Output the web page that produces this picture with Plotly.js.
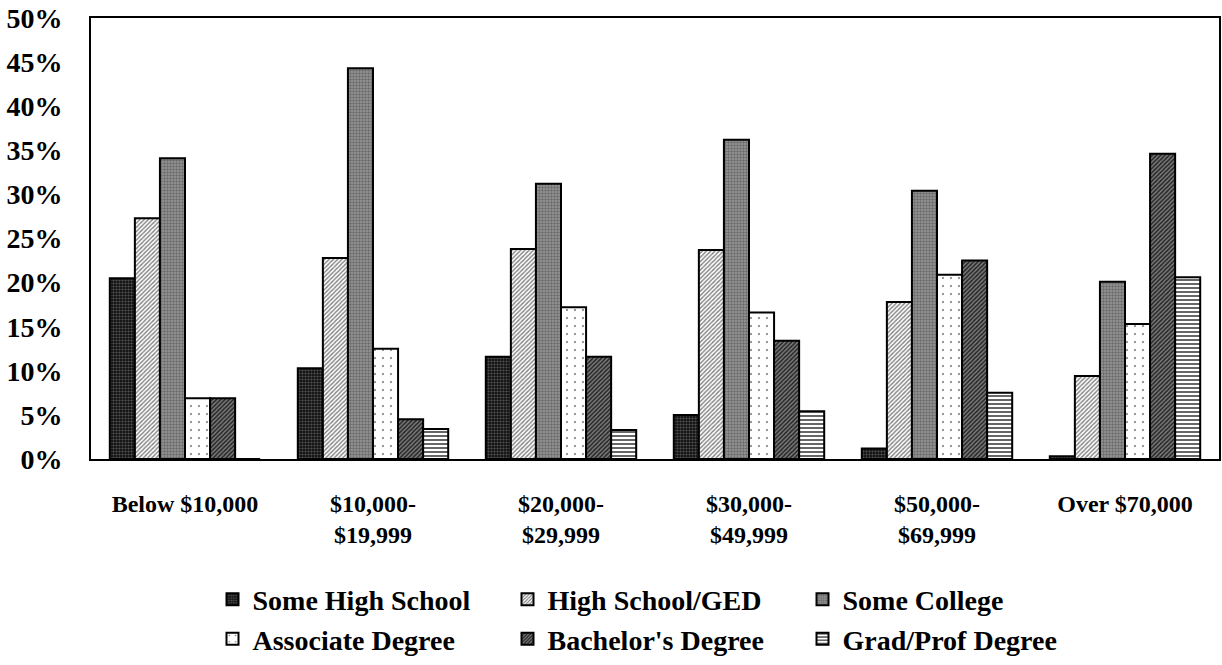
<!DOCTYPE html>
<html><head><meta charset="utf-8">
<script src="https://cdn.plot.ly/plotly-3.0.1.min.js"></script>
<style>html,body{margin:0;padding:0;background:#fff}#chart{width:1222px;height:665px}</style>
</head><body><div id="chart"></div>
<script>
const categories = ["Below $10,000", "$10,000-<br>$19,999", "$20,000-<br>$29,999", "$30,000-<br>$49,999", "$50,000-<br>$69,999", "Over $70,000"];
const seriesNames = ["Some High School", "High School/GED", "Some College", "Associate Degree", "Bachelor's Degree", "Grad/Prof Degree"];
const someHighSchool = [20.5, 10.3, 11.6, 5.0, 1.2, 0.3];
const highSchoolGED = [27.3, 22.8, 23.8, 23.7, 17.8, 9.4];
const someCollege = [34.1, 44.3, 31.2, 36.2, 30.4, 20.1];
const associateDegree = [6.9, 12.5, 17.2, 16.6, 20.9, 15.3];
const bachelorsDegree = [6.9, 4.5, 11.6, 13.4, 22.5, 34.6];
const gradProfDegree = [0, 3.4, 3.3, 5.4, 7.5, 20.6];
const seriesValues = [someHighSchool, highSchoolGED, someCollege, associateDegree, bachelorsDegree, gradProfDegree];
const yTicks = [0, 5, 10, 15, 20, 25, 30, 35, 40, 45, 50];

const styles = [
  {color: "#111111", pattern: {shape: ".", fgcolor: "#555", bgcolor: "#111111", size: 3, solidity: 0.4}},
  {color: "#ffffff", pattern: {shape: "/", fgcolor: "#808080", bgcolor: "#ffffff", size: 3, solidity: 0.45}},
  {color: "#8a8a8a", pattern: {shape: ".", fgcolor: "#6a6a6a", bgcolor: "#9a9a9a", size: 3, solidity: 0.5}},
  {color: "#ffffff", pattern: {shape: ".", fgcolor: "#666", bgcolor: "#ffffff", size: 8, solidity: 0.04}},
  {color: "#333333", pattern: {shape: "/", fgcolor: "#8a8a8a", bgcolor: "#2a2a2a", size: 3, solidity: 0.4}},
  {color: "#ffffff", pattern: {shape: "-", fgcolor: "#000", bgcolor: "#ffffff", size: 4, solidity: 0.3}}
];

const font = {family: "Liberation Serif, Times New Roman, serif", color: "#000", weight: "bold"};

const traces = seriesNames.map((name, i) => ({
  type: "bar",
  name: name,
  x: categories,
  y: seriesValues[i],
  marker: {color: styles[i].color, pattern: styles[i].pattern, line: {color: "#000", width: 2}},
  hoverinfo: "x+y+name"
}));

const layout = {
  width: 1222, height: 665,
  margin: {l: 91, r: 3, t: 18, b: 206, autoexpand: false},
  paper_bgcolor: "#fff", plot_bgcolor: "#fff",
  barmode: "group", bargap: 0.2, bargroupgap: 0,
  font: Object.assign({}, font, {size: 20}),
  xaxis: {
    type: "category", automargin: false,
    showline: true, mirror: true, linecolor: "#000", linewidth: 2,
    ticks: "", ticklabelstandoff: 22,
    tickfont: Object.assign({}, font, {size: 24}),
    showgrid: false
  },
  yaxis: {
    range: [0, 50], tickvals: yTicks, ticktext: yTicks.map(v => v + "%"), automargin: false,
    showline: true, mirror: true, linecolor: "#000", linewidth: 2,
    showgrid: false, zeroline: false, ticks: "", ticklabelstandoff: 21,
    tickfont: Object.assign({}, font, {size: 28})
  },
  legend: {
    orientation: "h", x: 0.5, xanchor: "center", y: -0.262, yanchor: "top",
    font: Object.assign({}, font, {size: 28}),
    entrywidth: 250, entrywidthmode: "pixels",
    itemsizing: "constant", tracegroupgap: 0
  },
  showlegend: true
};

Plotly.newPlot("chart", traces, layout, {displayModeBar: false, staticPlot: true});
</script>
</body></html>
